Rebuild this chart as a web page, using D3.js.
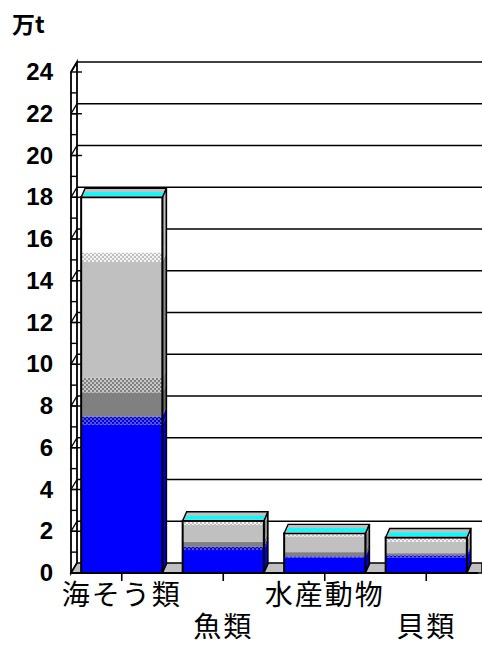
<!DOCTYPE html>
<html>
<head>
<meta charset="utf-8">
<script src="https://cdn.jsdelivr.net/npm/d3@7"></script>
<style>
  html, body { margin: 0; padding: 0; background: #fff; }
  svg { display: block; }
</style>
</head>
<body>
<svg id="chart" width="482" height="646"></svg>
<script>
// Categories and y-axis ticks
const categories = ["海そう類", "魚類", "水産動物", "貝類"];
const yTickValues = [0, 2, 4, 6, 8, 10, 12, 14, 16, 18, 20, 22, 24];
const unitLabel = "万t";

// Stacked series values (万t), bottom to top
const blueSolid   = [7.1, 1.1, 0.75, 0.75];
const blueDither  = [0.4, 0.15, 0.05, 0.1];
const darkGray    = [1.15, 0.25, 0.2, 0.1];
const grayDither  = [0.7, 0, 0, 0];
const lightGray   = [5.55, 0.8, 0.75, 0.55];
const lightDither = [0.45, 0.15, 0.1, 0.15];
const whitePart   = [2.65, 0.05, 0.05, 0.05];

const series = [
  { key: "blueSolid",   values: blueSolid,   front: "#0000ff",      side: "#0000e0" },
  { key: "blueDither",  values: blueDither,  front: "url(#pBlue)",  side: "#0000e0" },
  { key: "darkGray",    values: darkGray,    front: "#808080",      side: "#6a6a6a" },
  { key: "grayDither",  values: grayDither,  front: "url(#pGray)",  side: "#808080" },
  { key: "lightGray",   values: lightGray,   front: "#c0c0c0",      side: "#8a8a8a" },
  { key: "lightDither", values: lightDither, front: "url(#pLight)", side: "#c0c0c0" },
  { key: "whitePart",   values: whitePart,   front: "#ffffff",      side: "#c0c0c0" }
];

const table = categories.map((c, i) => {
  const row = { category: c };
  series.forEach(s => { row[s.key] = s.values[i]; });
  return row;
});

const svg = d3.select("#chart");

// 2x2 dither patterns
const defs = svg.append("defs");
function dither(id, a, b) {
  const p = defs.append("pattern").attr("id", id)
    .attr("width", 4).attr("height", 4).attr("patternUnits", "userSpaceOnUse");
  p.append("rect").attr("width", 4).attr("height", 4).attr("fill", a);
  p.append("rect").attr("x", 0).attr("y", 0).attr("width", 2).attr("height", 2).attr("fill", b);
  p.append("rect").attr("x", 2).attr("y", 2).attr("width", 2).attr("height", 2).attr("fill", b);
}
dither("pBlue", "#0000ff", "#5858b0");
dither("pGray", "#808080", "#c8c8c8");
dither("pLight", "#c0c0c0", "#f4f4f4");

const x = d3.scaleBand().domain(categories).range([71, 477])
  .paddingInner(0.2).paddingOuter(0.1);
const y = d3.scaleLinear().domain([0, 24]).range([573, 72]);

// wall depth offset and bar depth offset
const WDX = 6, WDY = -10;
const BDX = 4, BDY = -9;
const x0 = x.range()[0], x1 = 482;

const line = d3.line();

// Back wall gridlines
svg.append("g").selectAll("line").data(yTickValues.filter(v => v > 0)).join("line")
  .attr("x1", x0 + WDX).attr("x2", x1)
  .attr("y1", d => y(d) + WDY).attr("y2", d => y(d) + WDY)
  .attr("stroke", "#000").attr("stroke-width", 1.6);

// Left side wall strip
const wall = svg.append("g");
wall.append("path")
  .attr("d", line([[x0, y(0)], [x0, y(24)], [x0 + WDX, y(24) + WDY], [x0 + WDX, y(0) + WDY]]) + "Z")
  .attr("fill", "#fff").attr("stroke", "#000").attr("stroke-width", 1.8);
wall.selectAll("line.rung").data(d3.range(1, 24)).join("line").attr("class", "rung")
  .attr("x1", x0).attr("x2", x0 + WDX)
  .attr("y1", d => y(d)).attr("y2", d => y(d))
  .attr("stroke", "#000").attr("stroke-width", 1.4);
wall.selectAll("line.diag").data(yTickValues.filter(v => v > 0)).join("line").attr("class", "diag")
  .attr("x1", x0).attr("x2", x0 + WDX)
  .attr("y1", d => y(d)).attr("y2", d => y(d) + WDY)
  .attr("stroke", "#000").attr("stroke-width", 1.4);

// Floor
svg.append("path")
  .attr("d", line([[x0, y(0)], [x1, y(0)], [x1, y(0) + WDY], [x0 + WDX, y(0) + WDY]]) + "Z")
  .attr("fill", "#c0c0c0").attr("stroke", "#000").attr("stroke-width", 1.6);

// Stacked 3D bars
const stacked = d3.stack().keys(series.map(s => s.key))(table);
const bw = x.bandwidth();

const bars = svg.append("g").selectAll("g").data(categories).join("g");

bars.each(function (cat, i) {
  const g = d3.select(this);
  const bx0 = x(cat), bx1 = x(cat) + bw;
  // side faces
  stacked.forEach((layer, k) => {
    const [v0, v1] = layer[i];
    if (v1 - v0 <= 0) return;
    g.append("path")
      .attr("d", line([[bx1, y(v0)], [bx1, y(v1)], [bx1 + BDX, y(v1) + BDY], [bx1 + BDX, y(v0) + BDY]]) + "Z")
      .attr("fill", series[k].side);
  });
  const total = d3.sum(series, s => s.values[i]);
  g.append("path")
    .attr("d", line([[bx1, y(0)], [bx1, y(total)], [bx1 + BDX, y(total) + BDY], [bx1 + BDX, y(0) + BDY]]) + "Z")
    .attr("fill", "none").attr("stroke", "#000").attr("stroke-width", 1.6);
  // front faces
  stacked.forEach((layer, k) => {
    const [v0, v1] = layer[i];
    if (v1 - v0 <= 0) return;
    g.append("rect")
      .attr("x", bx0).attr("width", bw)
      .attr("y", y(v1)).attr("height", y(v0) - y(v1))
      .attr("fill", series[k].front);
  });
  g.append("rect")
    .attr("x", bx0).attr("width", bw)
    .attr("y", y(total)).attr("height", y(0) - y(total))
    .attr("fill", "none").attr("stroke", "#000").attr("stroke-width", 2);
  // top face
  const yt = y(total);
  g.append("path")
    .attr("d", line([[bx0, yt], [bx1, yt], [bx1 + BDX, yt + BDY], [bx0 + BDX, yt + BDY]]) + "Z")
    .attr("fill", "#c0c0c0").attr("stroke", "#000").attr("stroke-width", 1.4);
  g.append("path")
    .attr("d", line([[bx0 + 2, yt - 1.5], [bx1 - 0.5, yt - 1.5], [bx1 + 1.5, yt - 5], [bx0 + 4, yt - 5]]) + "Z")
    .attr("fill", "#00ffff");
});

// Front tick marks on the wall
svg.append("g").selectAll("line").data(yTickValues.filter(v => v > 0)).join("line")
  .attr("x1", x0).attr("x2", x0 + 11)
  .attr("y1", d => y(d)).attr("y2", d => y(d))
  .attr("stroke", "#000").attr("stroke-width", 1.4);

// Y axis labels
const yAxis = svg.append("g").attr("transform", `translate(${x0},0)`)
  .call(d3.axisLeft(y).tickValues(yTickValues).tickSize(0).tickPadding(18).tickFormat(d3.format("d")));
yAxis.select(".domain").remove();
yAxis.selectAll("text")
  .attr("font-family", "'Liberation Sans', Arial, sans-serif")
  .attr("font-weight", "bold").attr("font-size", 24).attr("fill", "#000");

// X axis: base line, ticks at band centres, alternating labels
const xAxis = svg.append("g").attr("transform", `translate(0,${y(0)})`)
  .call(d3.axisBottom(x).tickSize(8).tickPadding(4));
xAxis.select(".domain").attr("d", `M${x0},0H${x1 - 4}`).attr("stroke", "#000").attr("stroke-width", 2);
xAxis.selectAll(".tick line").attr("stroke", "#000").attr("stroke-width", 1.6);
xAxis.selectAll(".tick text")
  .attr("font-family", "'Noto Sans CJK JP', sans-serif")
  .attr("font-size", 28).attr("letter-spacing", 2).attr("fill", "#000")
  .attr("y", (d, i) => i % 2 === 0 ? 12 : 44)
  .attr("dy", "0.7em");

// Unit label
svg.append("text").attr("x", 12).attr("y", 33)
  .attr("font-family", "'Noto Sans CJK JP', sans-serif")
  .attr("font-weight", "bold").attr("font-size", 23).attr("fill", "#000")
  .text(unitLabel);
</script>
</body>
</html>
